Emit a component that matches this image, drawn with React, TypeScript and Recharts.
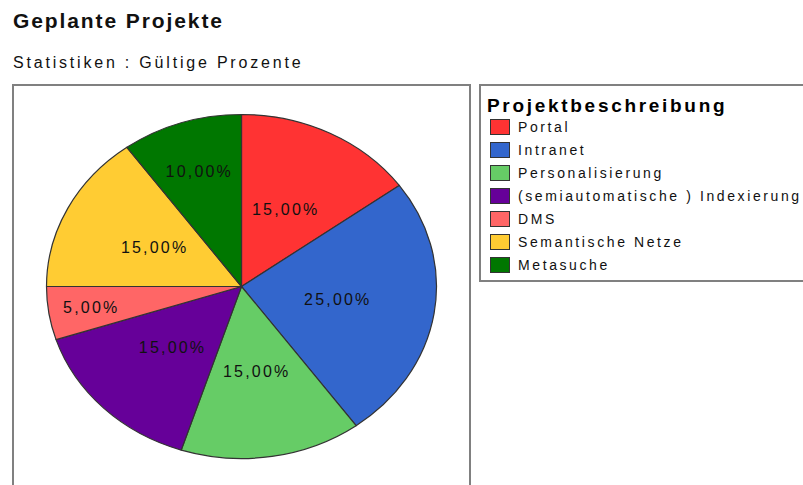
import { Cell, Legend, Pie, PieChart } from 'recharts'

const projects = ['Portal', 'Intranet', 'Personalisierung', '(semiautomatische ) Indexierung', 'DMS', 'Semantische Netze', 'Metasuche']
const shares = [15, 25, 15, 15, 5, 15, 10] // gültige Prozente
const colors = ['#ff3333', '#3366cc', '#66cc66', '#660099', '#ff6666', '#ffcc33', '#007700']

const data = projects.map((name, i) => ({ name, value: shares[i] }))

const SQUASH = 172 / 195 // pie is drawn as a flattened ellipse
const RAD = Math.PI / 180
const FONT = '"Liberation Sans", Arial, sans-serif'

function pt(cx: number, cy: number, r: number, angle: number) {
  return [cx + r * Math.cos(-angle * RAD), cy + SQUASH * r * Math.sin(-angle * RAD)]
}

function EllipseSector(props: any) {
  const { cx, cy, outerRadius, startAngle, endAngle, fill } = props
  const [x0, y0] = pt(cx, cy, outerRadius, startAngle)
  const [x1, y1] = pt(cx, cy, outerRadius, endAngle)
  const large = Math.abs(endAngle - startAngle) > 180 ? 1 : 0
  const sweep = endAngle < startAngle ? 1 : 0
  const d = `M${cx},${cy} L${x0},${y0} A${outerRadius},${outerRadius * SQUASH} 0 ${large} ${sweep} ${x1},${y1} Z`
  return <path d={d} fill={fill} stroke="#333" strokeWidth={1.2} strokeLinejoin="round" />
}

function renderLabel(props: any) {
  const { cx, cy, midAngle, outerRadius, percent } = props
  // small slices push their label outward so it fits
  const frac = percent < 0.08 ? 0.78 : percent < 0.12 ? 0.7 : 0.5
  const [x, y] = pt(cx, cy, outerRadius * frac, midAngle)
  return (
    <text x={x} y={y} textAnchor="middle" dominantBaseline="central" fill="#111" fontSize={16} letterSpacing={2.2} fontFamily={FONT}>
      {(percent * 100).toFixed(2).replace('.', ',')}%
    </text>
  )
}

function LegendBox(props: any) {
  // keep the data order, not alphabetical
  const payload = [...(props.payload || [])].sort((a: any, b: any) => projects.indexOf(a.value) - projects.indexOf(b.value))
  return (
    <div style={{ fontFamily: FONT }}>
      <div style={{ fontSize: 19, fontWeight: 'bold', letterSpacing: 2.7, lineHeight: '20px' }}>Projektbeschreibung</div>
      {payload.map((p: any) => (
        <div key={p.value} style={{ display: 'flex', alignItems: 'center', height: 22.9 }}>
          <span style={{ width: 18, height: 14, background: p.color, border: '1px solid #333', marginLeft: 3, marginRight: 8, boxSizing: 'content-box' }} />
          <span style={{ fontSize: 14, letterSpacing: 2.6, color: '#111', whiteSpace: 'nowrap' }}>{p.value}</span>
        </div>
      ))}
    </div>
  )
}

export default function App() {
  return (
    <div style={{ position: 'absolute', left: 0, top: 0, width: 803, height: 485, overflow: 'hidden', background: '#fff', fontFamily: FONT }}>
      <div style={{ position: 'absolute', left: 13, top: 9, fontSize: 21, fontWeight: 'bold', letterSpacing: 1.9, color: '#111' }}>Geplante Projekte</div>
      <div style={{ position: 'absolute', left: 13, top: 54, fontSize: 16, letterSpacing: 2.8, color: '#111' }}>Statistiken : Gültige Prozente</div>
      <div style={{ position: 'absolute', left: 12, top: 84, width: 455, height: 420, border: '2px solid #808080' }} />
      <div style={{ position: 'absolute', left: 479, top: 84, width: 340, height: 194, border: '2px solid #808080' }} />
      <div style={{ position: 'absolute', left: 0, top: 0 }}>
        <PieChart width={803} height={485} margin={{ top: 0, right: 0, bottom: 0, left: 0 }}>
          <Pie
            data={data}
            dataKey="value"
            nameKey="name"
            cx={241.5}
            cy={286.5}
            outerRadius={195}
            startAngle={90}
            endAngle={-270}
            shape={EllipseSector}
            label={renderLabel}
            labelLine={false}
            isAnimationActive={false}
          >
            {data.map((d, i) => (
              <Cell key={d.name} fill={colors[i]} />
            ))}
          </Pie>
          <Legend content={LegendBox} wrapperStyle={{ position: 'absolute', left: 487, top: 96, width: 330 }} />
        </PieChart>
      </div>
    </div>
  )
}
